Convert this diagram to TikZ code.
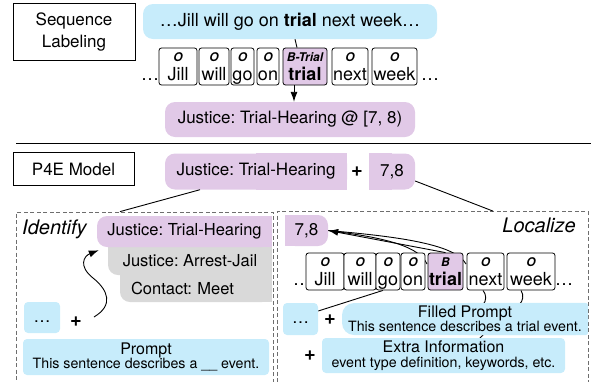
\documentclass[tikz,border=0pt]{standalone}
\usepackage{fontspec}
\setmainfont{TeX Gyre Heros}
\usetikzlibrary{arrows.meta}
\usetikzlibrary{backgrounds}
\tikzset{>={Latex[length=10pt,width=7pt]}}
\definecolor{skyblue}{RGB}{199,236,251}
\definecolor{lilac}{RGB}{225,201,231}
\definecolor{lightgrey}{RGB}{217,217,217}
\definecolor{dashgrey}{RGB}{110,110,110}
\frenchspacing
\newcommand\mainfs{\fontsize{17}{22}\selectfont}
\newcommand\panelfs{\fontsize{16.5}{20}\selectfont}
\newcommand\tokfs{\fontsize{18}{22}\selectfont}
\newcommand\tagfs{\fontsize{12}{14}\selectfont\bfseries\itshape}
\newcommand\headfs{\fontsize{16}{14.5}\selectfont}
\newcommand\notefs{\fontsize{14.2}{14.5}\selectfont}
\newcommand\stagefs{\fontsize{20}{24}\selectfont\itshape}
\tikzset{
  titlebox/.style={draw, line width=0.8pt, inner sep=0pt, font=\mainfs, align=center},
  tok/.style={draw, fill=white, line width=0.8pt, rounded corners=2.5pt, inner xsep=0pt,
    inner ysep=0pt, text height=32pt, text depth=5pt, font=\tokfs},
  tokentag/.style={anchor=north, inner sep=0pt, font=\tagfs},
  bubble/.style={inner sep=0pt, font=\mainfs, rounded corners=10pt},
  notebox/.style={fill=skyblue, rounded corners=4pt, inner sep=0pt, align=center, font=\notefs},
  stage/.style={draw=dashgrey, dash pattern=on 4pt off 2.5pt, line width=0.8pt, inner sep=0pt},
  plussign/.style={font=\fontsize{20}{22}\selectfont\bfseries, inner sep=0pt},
  wire/.style={line width=0.9pt},
}
\begin{document}
\begin{tikzpicture}[x=1pt, y=-1pt]
  \useasboundingbox (0,0) rectangle (591,381);
  % sequence labeling
  \node[titlebox, minimum width=122, minimum height=57] (seq) at (74,31.5) {Sequence\\Labeling};
  \node[bubble, fill=skyblue, minimum width=294, minimum height=35, font=\tokfs] (sent) at (290,21.5)
    {…Jill will go on \textbf{trial} next week…};
  \node[font=\tokfs, anchor=base, inner sep=0pt] (tdotsl) at (150,80) {…};
  \node[font=\tokfs, anchor=base, inner sep=0pt] (tdotsr) at (430,80) {…};
  \foreach \nm/\px/\bw in {Jill/178/38, will/214/30, go/242.5/23, on/268/22, next/350/36, week/394.5/45}{
    \node[tok, minimum width=\bw] (t\nm) at (\px,66.5) {\nm};
    \node[tokentag] (g\nm) at ([yshift=-4.5pt]t\nm.north) {O};
  }
  \node[tok, fill=lilac, minimum width=44, font=\tokfs\bfseries] (ttrial) at (305,66.5) {trial};
  \node[tokentag] (gtrial) at ([yshift=-4.5pt]ttrial.north) {B-Trial};
  \node[bubble, fill=lilac, minimum width=250, minimum height=35] (tagged) at (290,119.5)
    {Justice: Trial-Hearing @ [7, 8)};
  \draw[wire] ([xshift=-10pt]ttrial.north |- sent.south) -- ([xshift=-8pt]ttrial.north);
  \draw[wire,->] ([xshift=-11pt]ttrial.south) -- ([xshift=-11pt]ttrial.south |- tagged.north);

  \draw[line width=0.9pt] (16,143) -- (591,143);

  % P4E model
  \node[titlebox, minimum width=121, minimum height=33] (p4e) at (73.5,169) {P4E Model};
  \node[bubble, fill=lilac, minimum width=182, minimum height=36] (pj) at (256,171.5) {Justice: Trial-Hearing};
  \node[plussign] (pplus) at (357,172) {+};
  \node[bubble, fill=lilac, minimum width=46, minimum height=36] (pspan) at (392,171.5) {7,8};
  \node[stage, minimum width=257, minimum height=180] (ident) at (144.5,302) {};
  \node[stage, minimum width=311, minimum height=180] (local) at (432.5,301.5) {};
  \draw[wire] ([xshift=-56pt]pj.south) -- ([xshift=-24.5pt]ident.north);
  \draw[wire] ([yshift=-9.5pt]pspan.east) -- ([xshift=60.5pt]local.north);

  % identify
  \node[anchor=base west, font=\stagefs, inner sep=0pt] (idtxt) at (22,234) {Identify};
  \node[bubble, fill=lightgrey, minimum height=27, inner xsep=11pt, text width=130, align=left,
    font=\panelfs] (pc) at (196,288.5) {Contact: Meet};
  \node[bubble, fill=lightgrey, minimum width=164, minimum height=28, font=\panelfs] (pa) at (190,261)
    {Justice: Arrest-Jail};
  \node[bubble, fill=lilac, minimum width=175, minimum height=31, font=\panelfs] (pid) at (184.5,231.5)
    {Justice: Trial-Hearing};
  \node[notebox, minimum width=36, minimum height=31, font=\mainfs, text height=12.5pt, text depth=3.5pt]
    (idots) at (42,317.5) {…};
  \node[plussign] (iplus) at (76,322) {+};
  \node[notebox, minimum width=246, minimum height=36] (prompt) at (146,357)
    {{\headfs Prompt}\\This sentence describes a \_\_ event.};
  \coordinate (curl) at (94,317);
  \draw[wire,->] (curl) .. controls (114,305) and (108,290) .. (93,278)
    .. controls (78,266) and (84,256) .. ([xshift=2pt,yshift=-3pt]pid.south west);

  % localize
  \node[anchor=base east, font=\stagefs, inner sep=0pt] (loctxt) at (576,232) {Localize};
  \node[bubble, fill=lilac, minimum width=43, minimum height=31] (lspan) at (306.5,230.5) {7,8};
  \node[font=\tokfs, anchor=base, inner sep=0pt] (bdotsl) at (302,285) {…};
  \node[font=\tokfs, anchor=base, inner sep=0pt] (bdotsr) at (564,285) {…};
  \foreach \nm/\px/\bw in {Jill/325/38, will/360/32, go/388/24, on/413/24, next/485.5/37, week/531/48}{
    \node[tok, minimum width=\bw] (b\nm) at (\px,271.5) {\nm};
    \node[tokentag] (h\nm) at ([yshift=-4.5pt]b\nm.north) {O};
  }
  \node[tok, fill=lilac, minimum width=35, font=\tokfs\bfseries] (btrial) at (445.5,271.5) {trial};
  \node[tokentag] (htrial) at ([yshift=-4.5pt]btrial.north) {B};
  \node[notebox, minimum width=35, minimum height=32, font=\mainfs, text height=12.5pt, text depth=3.5pt]
    (ldots) at (300.5,319) {…};
  \node[plussign] (lplus) at (330,320) {+};
  \node[notebox, rounded corners=12pt, minimum width=246, minimum height=32] (filled) at (465,319)
    {{\headfs Filled Prompt}\\This sentence describes a trial event.};
  \node[plussign] (xplus) at (310,356) {+};
  \node[notebox, minimum width=243, minimum height=35] (extra) at (443.5,355.5)
    {{\headfs Extra Information}\\event type definition, keywords, etc.};

  \begin{scope}[on background layer]
    % square corners
    \fill[lilac] (pj.north) rectangle (pj.south east);
    \fill[lilac] (pspan.north west) rectangle (pspan.south);
    \fill[lilac] (pid.north) rectangle (pid.south east);
    \fill[lightgrey] (pa.north west) rectangle (pa.east);
    \fill[lightgrey] (pa.north) rectangle (pa.south east);
    \fill[lightgrey] (pc.north west) rectangle (pc.east);
    \fill[lightgrey] (pc.north) rectangle (pc.south east);
    \fill[lilac] (lspan.north west) rectangle (lspan.south);
    \fill[skyblue, rounded corners=3pt] (filled.north) rectangle (filled.south east);
    % links behind the tokens
    \draw[wire,->] (btrial.north) -- (lspan.east);
    \draw[wire] (lspan.east) .. controls (370,236) and (418,243) .. (427,264);
    \draw[wire] (lspan.east) .. controls (390,236) and (455,243) .. (466,264);
    \draw[wire] ([xshift=-5pt]bgo.south) -- ([yshift=8pt]ldots.east);
    \draw[wire] ([xshift=-2.5pt]bnext.south) to[bend left=40] ([xshift=-2.5pt,yshift=-2pt]bnext.south |- filled.north);
    \draw[wire] ([xshift=-10pt]bweek.south) to[bend left=40] ([xshift=-12pt,yshift=-2pt]bweek.south |- filled.north);
    \draw[wire] ([xshift=18pt]filled.south) -- ([xshift=36.5pt]extra.north);
  \end{scope}
\end{tikzpicture}
\end{document}
